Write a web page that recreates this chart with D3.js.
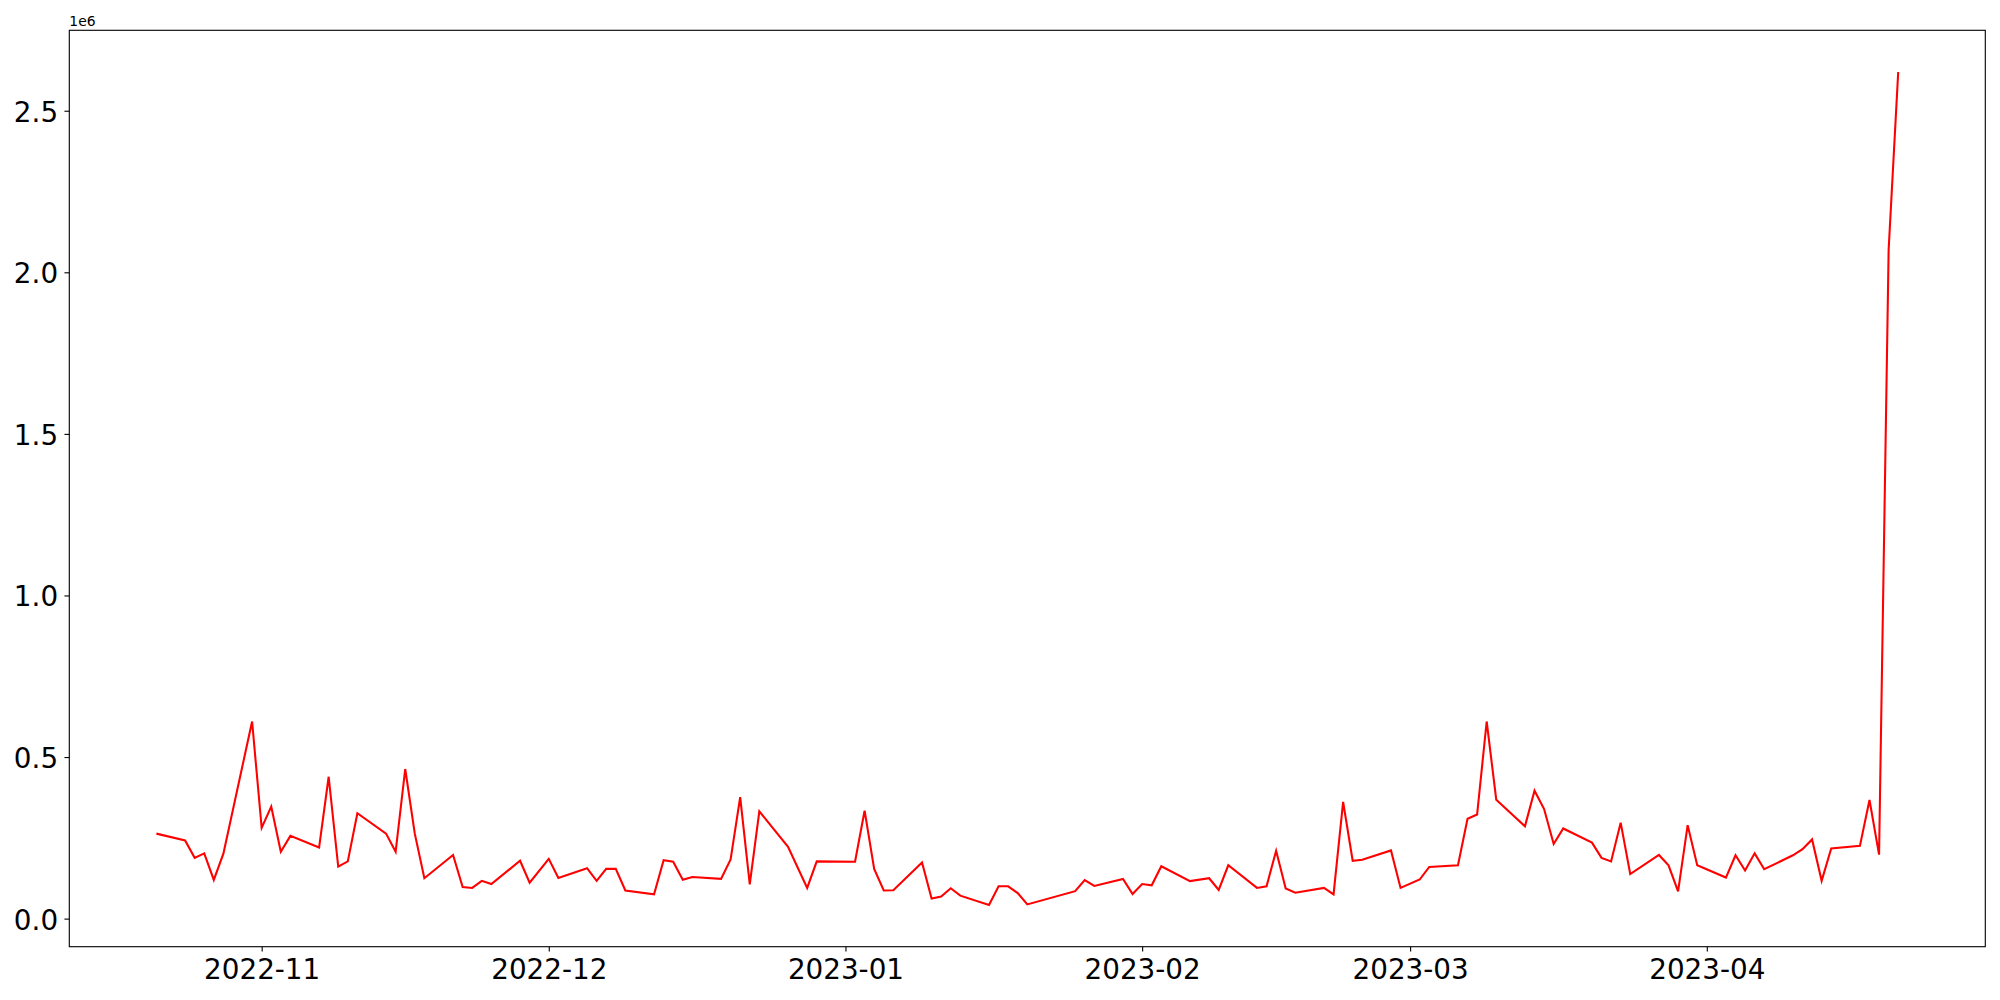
<!DOCTYPE html>
<html>
<head>
<meta charset="utf-8">
<script src="https://cdn.jsdelivr.net/npm/d3@7"></script>
<style>
  html, body { margin: 0; padding: 0; background: #fff; }
  svg { display: block; }
  text { font-family: "DejaVu Sans", sans-serif; fill: #000; }
</style>
</head>
<body>
<svg id="chart" width="2000" height="1000"></svg>
<script>
// ---- data ----
const dates = [
  "2022-10-21","2022-10-24","2022-10-25","2022-10-26","2022-10-27","2022-10-28",
  "2022-10-31","2022-11-01","2022-11-02","2022-11-03","2022-11-04",
  "2022-11-07","2022-11-08","2022-11-09","2022-11-10","2022-11-11",
  "2022-11-14","2022-11-15","2022-11-16","2022-11-17","2022-11-18",
  "2022-11-21","2022-11-22","2022-11-23","2022-11-24","2022-11-25",
  "2022-11-28","2022-11-29","2022-12-01","2022-12-02",
  "2022-12-05","2022-12-06","2022-12-07","2022-12-08","2022-12-09",
  "2022-12-12","2022-12-13","2022-12-14","2022-12-15","2022-12-16",
  "2022-12-19","2022-12-20","2022-12-21","2022-12-22","2022-12-23",
  "2022-12-26","2022-12-28","2022-12-29",
  "2023-01-02","2023-01-03","2023-01-04","2023-01-05","2023-01-06",
  "2023-01-09","2023-01-10","2023-01-11","2023-01-12","2023-01-13",
  "2023-01-16","2023-01-17","2023-01-18","2023-01-19","2023-01-20",
  "2023-01-25","2023-01-26","2023-01-27",
  "2023-01-30","2023-01-31","2023-02-01","2023-02-02","2023-02-03",
  "2023-02-06","2023-02-08","2023-02-09","2023-02-10",
  "2023-02-13","2023-02-14","2023-02-15","2023-02-16","2023-02-17",
  "2023-02-20","2023-02-21","2023-02-22","2023-02-23","2023-02-24",
  "2023-02-27","2023-02-28","2023-03-02","2023-03-03",
  "2023-03-06","2023-03-07","2023-03-08","2023-03-09","2023-03-10",
  "2023-03-13","2023-03-14","2023-03-15","2023-03-16","2023-03-17",
  "2023-03-20","2023-03-21","2023-03-22","2023-03-23","2023-03-24",
  "2023-03-27","2023-03-28","2023-03-29","2023-03-30","2023-03-31",
  "2023-04-03","2023-04-04","2023-04-05","2023-04-06","2023-04-07",
  "2023-04-10","2023-04-11","2023-04-12","2023-04-13","2023-04-14",
  "2023-04-17","2023-04-18","2023-04-19","2023-04-20","2023-04-21"
];
const values = [
  263000,242000,188000,202000,120000,201000,
  610000,281000,347000,207000,256000,
  220000,439000,161000,177000,326000,
  263000,207000,463000,263000,125000,
  197000,98000,95000,117000,107000,
  179000,111000,185000,126000,
  156000,117000,154000,154000,87000,
  75000,181000,176000,120000,129000,
  123000,183000,376000,106000,332000,
  222000,95000,177000,
  176000,334000,154000,87000,88000,
  174000,62000,68000,94000,71000,
  42000,100000,100000,79000,44000,
  85000,119000,101000,
  123000,76000,107000,103000,162000,
  116000,125000,89000,165000,
  95000,100000,210000,93000,80000,
  95000,75000,361000,179000,182000,
  211000,95000,121000,160000,
  165000,309000,322000,610000,368000,
  286000,396000,339000,231000,279000,
  235000,188000,177000,297000,138000,
  197000,165000,84000,289000,165000,
  127000,196000,149000,202000,153000,
  196000,215000,245000,117000,217000,
  225000,367000,198000,2070000,2620000
];
const yTickValues = [0, 500000, 1000000, 1500000, 2000000, 2500000];
const yTickLabels = ["0.0", "0.5", "1.0", "1.5", "2.0", "2.5"];
const offsetLabel = "1e6";

// ---- layout ----
const W = 2000, H = 1000;
const plot = { left: 69.3, right: 1985.3, top: 30.3, bottom: 946.7 };
const tickLen = 4.86, tickPad = 4.86;
const fontSize = 27.8;

const parse = d3.utcParse("%Y-%m-%d");
const data = dates.map((d, i) => ({ date: parse(d), value: values[i] }));

const xExt = d3.extent(data, d => +d.date);
const xPad = (xExt[1] - xExt[0]) * 0.05;
const x = d3.scaleUtc()
  .domain([new Date(xExt[0] - xPad), new Date(xExt[1] + xPad)])
  .range([plot.left, plot.right]);

const yExt = d3.extent(data, d => d.value);
const yPad = (yExt[1] - yExt[0]) * 0.05;
const y = d3.scaleLinear()
  .domain([yExt[0] - yPad, yExt[1] + yPad])
  .range([plot.bottom, plot.top]);

const svg = d3.select("#chart");
svg.append("rect").attr("width", W).attr("height", H).attr("fill", "#fff");

// line
const line = d3.line().x(d => x(d.date)).y(d => y(d.value));
svg.append("path")
  .datum(data)
  .attr("d", line)
  .attr("fill", "none")
  .attr("stroke", "#ff0000")
  .attr("stroke-width", 2.08)
  .attr("stroke-linejoin", "miter")
  .attr("stroke-linecap", "butt");

// frame
svg.append("rect")
  .attr("x", plot.left).attr("y", plot.top)
  .attr("width", plot.right - plot.left)
  .attr("height", plot.bottom - plot.top)
  .attr("fill", "none")
  .attr("stroke", "#000")
  .attr("stroke-width", 1.11);

// x axis
const xAxis = d3.axisBottom(x)
  .ticks(d3.utcMonth.every(1))
  .tickFormat(d3.utcFormat("%Y-%m"))
  .tickSize(tickLen)
  .tickSizeOuter(0);
const gx = svg.append("g")
  .attr("transform", `translate(0,${plot.bottom})`)
  .call(xAxis);
gx.select(".domain").remove();
gx.selectAll(".tick line").attr("stroke", "#000").attr("stroke-width", 1.11);
gx.selectAll(".tick text")
  .attr("y", 32.6).attr("dy", null)
  .attr("font-family", "DejaVu Sans")
  .attr("font-size", fontSize)
  .attr("fill", "#000");

// y axis
const yAxis = d3.axisLeft(y)
  .tickValues(yTickValues)
  .tickFormat((d, i) => yTickLabels[i])
  .tickSize(tickLen)
  .tickSizeOuter(0);
const gy = svg.append("g")
  .attr("transform", `translate(${plot.left},0)`)
  .call(yAxis);
gy.select(".domain").remove();
gy.selectAll(".tick line").attr("stroke", "#000").attr("stroke-width", 1.11);
gy.selectAll(".tick text")
  .attr("x", -(tickLen + tickPad + 1.5))
  .attr("dy", null).attr("y", 10.4)
  .attr("font-family", "DejaVu Sans")
  .attr("font-size", fontSize)
  .attr("fill", "#000");

// offset label
svg.append("text")
  .attr("x", plot.left)
  .attr("y", 25.8)
  .attr("font-size", 13.9)
  .text(offsetLabel);
</script>
</body>
</html>
